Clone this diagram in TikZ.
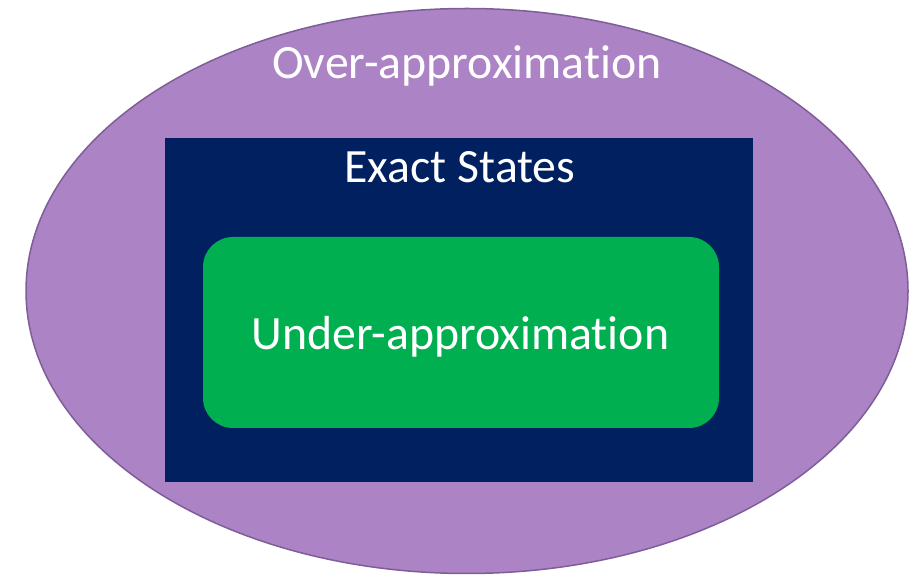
\documentclass[tikz,border=0pt]{standalone}
\usepackage{fontspec}
\setmainfont[RawFeature={-liga;-clig;-dlig;-calt}]{Carlito}
\usetikzlibrary{shapes.geometric}
\definecolor{overfill}{RGB}{172,131,197}
\definecolor{overline}{RGB}{126,94,152}
\definecolor{exactfill}{RGB}{0,32,96}
\definecolor{underfill}{RGB}{0,176,80}
% keep "t" and "i" as separate glyphs
\newcommand{\tisep}{t\kern0pt i}
\tikzset{
  region/.style={inner sep=0pt, outer sep=0pt},
  caption/.style={text=white, inner sep=0pt, anchor=base, font=\fontsize{47.8}{52}\selectfont},
}
\begin{document}
\begin{tikzpicture}[x=1pt,y=1pt]
  \useasboundingbox (0,0) rectangle (912,575);
  % outer set: over-approximation
  \node[region, ellipse, fill=overfill, draw=overline, line width=1.5pt,
        minimum width=882pt, minimum height=565pt] (over) at (467,284) {};
  % exact reachable states
  \node[region, rectangle, fill=exactfill,
        minimum width=588pt, minimum height=344pt] (exact) at (459,265) {};
  % inner set: under-approximation
  \node[region, rectangle, rounded corners=30pt, fill=underfill,
        minimum width=516pt, minimum height=191pt] (under) at (461,242.5) {};
  % labels
  \node[caption] (overlbl) at (467,496) {Over-approxima\tisep on};
  \node[caption] (exactlbl) at (460,392) {Exact States};
  \node[caption] (underlbl) at (460.5,225) {Under-approxima\tisep on};
\end{tikzpicture}
\end{document}
